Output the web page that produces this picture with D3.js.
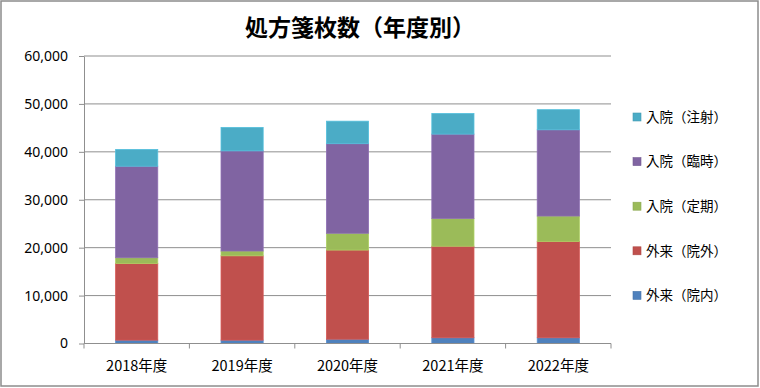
<!DOCTYPE html>
<html><head><meta charset="utf-8">
<script src="https://cdn.jsdelivr.net/npm/d3@7"></script>
<style>
html,body{margin:0;padding:0;background:#fff;}
svg{display:block;font-family:"Noto Sans CJK JP","Noto Sans",sans-serif;}
</style></head>
<body><svg id="chart" width="760" height="388"></svg>
<script>
const title = "処方箋枚数（年度別）";
const categories = ["2018年度","2019年度","2020年度","2021年度","2022年度"];
const seriesNames = ["外来（院内）","外来（院外）","入院（定期）","入院（臨時）","入院（注射）"];
const seriesColors = ["#4F81BD","#C0504D","#9BBB59","#8064A2","#4BACC6"];
const outpatientInternal = [700, 700, 900, 1200, 1200];
const outpatientExternal = [16000, 17600, 18600, 19100, 20100];
const inpatientRegular = [1200, 1000, 3500, 5800, 5300];
const inpatientTemporary = [19100, 20900, 18700, 17600, 18000];
const inpatientInjection = [3500, 4900, 4700, 4300, 4200];
const yTicks = [0, 10000, 20000, 30000, 40000, 50000, 60000];

const seriesValues = [outpatientInternal, outpatientExternal, inpatientRegular, inpatientTemporary, inpatientInjection];
const rows = categories.map((c, i) => {
  const r = {cat: c};
  seriesNames.forEach((s, j) => r[s] = seriesValues[j][i]);
  return r;
});

const svg = d3.select("#chart");
const pLeft = 84, pRight = 611, pTop = 56, pBottom = 343.5;

// outer border
svg.append("rect").attr("x", 1).attr("y", 1).attr("width", 757).attr("height", 385)
  .attr("fill", "#fff").attr("stroke", "#8c8c8c").attr("stroke-width", 1.5);

const x = d3.scaleBand().domain(categories).range([pLeft, pRight]).paddingInner(0.6).paddingOuter(0.3);
const y = d3.scaleLinear().domain([0, 60000]).range([pBottom, pTop]);

// gridlines
svg.append("g").selectAll("line").data(yTicks.filter(t => t > 0)).join("line")
  .attr("x1", pLeft).attr("x2", pRight)
  .attr("y1", d => y(d)).attr("y2", d => y(d))
  .attr("stroke", "#8f8f8f").attr("stroke-width", 1);

// stacked bars
const stack = d3.stack().keys(seriesNames)(rows);
svg.append("g").selectAll("g").data(stack).join("g")
  .attr("fill", (d, i) => seriesColors[i])
  .attr("stroke", (d, i) => d3.color(seriesColors[i]).brighter(0.3))
  .attr("stroke-width", 0.8)
  .selectAll("rect").data(d => d).join("rect")
  .attr("x", d => x(d.data.cat))
  .attr("width", x.bandwidth())
  .attr("y", d => y(d[1]))
  .attr("height", d => y(d[0]) - y(d[1]));

// y axis
const yAxis = d3.axisLeft(y).tickValues(yTicks).tickSize(5).tickSizeOuter(0)
  .tickFormat(d3.format(",")).tickPadding(11);
const ga = svg.append("g").attr("transform", `translate(${pLeft},0)`).call(yAxis);
ga.select(".domain").attr("stroke", "#8f8f8f");
ga.selectAll(".tick line").attr("stroke", "#8f8f8f");
ga.selectAll("text").attr("font-size", 14).attr("fill", "#000")
  .attr("font-family", '"Noto Sans","Noto Sans CJK JP",sans-serif');

// x axis
const step = x.step();
const xb = svg.append("g").attr("transform", `translate(0,${pBottom})`);
xb.append("line").attr("x1", pLeft).attr("x2", pRight).attr("y1", 0).attr("y2", 0).attr("stroke", "#8f8f8f");
const bounds = d3.range(categories.length + 1).map(i => pLeft + i * step);
xb.selectAll("line.tk").data(bounds).join("line").attr("class", "tk")
  .attr("x1", d => d).attr("x2", d => d).attr("y1", 0).attr("y2", 5).attr("stroke", "#8f8f8f");
xb.selectAll("text").data(categories).join("text")
  .attr("x", d => x(d) + x.bandwidth() / 2).attr("y", 27)
  .attr("text-anchor", "middle").attr("font-size", 14.5).attr("fill", "#000")
  .text(d => d);

// title
svg.append("text").attr("x", 360).attr("y", 36).attr("text-anchor", "middle")
  .attr("font-size", 23).attr("font-weight", "bold").attr("fill", "#000").text(title);

// legend
const legendOrder = d3.range(seriesNames.length).reverse();
const lg = svg.append("g").selectAll("g").data(legendOrder).join("g")
  .attr("transform", (d, i) => `translate(633,${117 + i * 44.6})`);
lg.append("rect").attr("x", 0).attr("y", -4).attr("width", 8).attr("height", 8)
  .attr("fill", d => seriesColors[d]).attr("stroke", d => d3.color(seriesColors[d]).darker(0.3)).attr("stroke-width", 0.6);
lg.append("text").attr("x", 13).attr("y", 0).attr("dy", "0.36em")
  .attr("font-size", 13.5).attr("fill", "#000").text(d => seriesNames[d]);
</script></body></html>
